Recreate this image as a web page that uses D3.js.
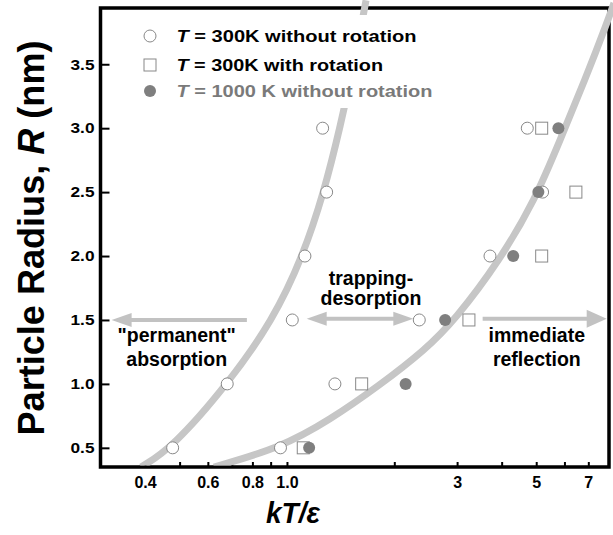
<!DOCTYPE html>
<html>
<head>
<meta charset="UTF-8">
<title>Particle radius vs kT/e</title>
<script src="https://cdn.jsdelivr.net/npm/d3@7"></script>
<style>
  body { margin: 0; background: #fff; }
  svg text { font-family: "Liberation Sans", Arial, Helvetica, sans-serif; font-weight: bold; }
  .curve { fill: none; stroke: #c6c6c6; stroke-width: 7px; }
  .arrow { stroke: #c2c2c2; stroke-width: 4px; fill: none; }
  .head { fill: #c2c2c2; stroke: none; }
  .tick line { stroke: #000; stroke-width: 2px; }
</style>
</head>
<body>
<svg width="613" height="535"></svg>
<script>
// particle radii simulated (nm)
var radii = [0.5, 1.0, 1.5, 2.0, 2.5, 3.0];
// kT/eps values for each radius
var open300Low  = [0.478, 0.680, 1.035, 1.123, 1.292, 1.259];   // T=300K no rotation, lower boundary
var open300High = [0.959, 1.363, 2.350, 3.71, 5.21, 4.72];      // T=300K no rotation, upper boundary
var square300   = [1.111, 1.620, 3.238, 5.18, 6.46, 5.18];      // T=300K with rotation
var filled1000  = [1.154, 2.152, 2.777, 4.31, 5.07, 5.77];      // T=1000K no rotation

// guide curves
var curveLowKT  = [0.390, 0.476, 0.683, 0.914, 1.109, 1.270, 1.408, 1.561, 1.666];
var curveLowR   = [0.35, 0.499, 1.0, 1.5, 2.0, 2.5, 3.0, 3.572, 4.0];
var curveHighKT = [0.624, 0.956, 1.320, 1.823, 2.438, 2.959, 3.957, 4.962, 5.831, 6.849, 7.95, 8.26];
var curveHighR  = [0.35, 0.499, 0.718, 0.991, 1.265, 1.50, 1.969, 2.438, 2.907, 3.377, 3.846, 3.979];

var xTickValues = [0.4, 0.5, 0.6, 0.7, 0.8, 0.9, 1.0, 2, 3, 4, 5, 6, 7];
var xTickLabels = ['0.4', '', '0.6', '', '0.8', '', '1.0', '', '3', '', '5', '', '7'];
var yTickValues = [0.5, 1.0, 1.5, 2.0, 2.5, 3.0, 3.5];

var legendLabels = ['300K without rotation', '300K with rotation', '1000 K without rotation'];

// region annotations (data coords)
var arrows = [
    { from: 0.772, to: 0.3223, r: 1.50, both: false, hw: 7 },
    { from: 1.136, to: 2.261,  r: 1.51, both: true,  hw: 7 },
    { from: 3.538, to: 7.88,   r: 1.51, both: false, hw: 9 }
];
var notes = [
    { lines: ['"permanent"', 'absorption'], kt: 0.4906, r: 1.327, gap: 24 },
    { lines: ['trapping-', 'desorption'],   kt: 1.720,  r: 1.771, gap: 20 },
    { lines: ['immediate', 'reflection'],   kt: 5.02,   r: 1.327, gap: 23.5 }
];

var svg = d3.select('svg');

var x = d3.scaleLog().domain([0.3, 8]).range([100.5, 609]),
    y = d3.scaleLinear().domain([0.35, 3.94]).range([467, 8]);

// axes
var xAxis = svg.append('g')
    .attr('transform', 'translate(0,' + y(0.35) + ')')
    .call(d3.axisBottom(x).tickValues(xTickValues).tickSize(-5).tickPadding(10)
        .tickFormat(function(d, i) { return xTickLabels[i]; }));
xAxis.select('.domain').remove();
xAxis.selectAll('text').attr('font-size', 16).attr('font-weight', 'bold')
    .style('font-family', '"Liberation Sans", Arial, sans-serif');

var yAxis = svg.append('g')
    .attr('transform', 'translate(' + x(0.3) + ',0)')
    .call(d3.axisLeft(y).tickValues(yTickValues).tickSize(-9).tickPadding(6)
        .tickFormat(d3.format('.1f')));
yAxis.select('.domain').remove();
yAxis.selectAll('text').attr('font-size', 15).attr('font-weight', 'bold')
    .attr('textLength', 24).attr('lengthAdjust', 'spacingAndGlyphs')
    .style('font-family', '"Liberation Sans", Arial, sans-serif');

svg.append('rect')
    .attr('x', x(0.3)).attr('y', y(3.94))
    .attr('width', x(8) - x(0.3)).attr('height', y(0.35) - y(3.94))
    .attr('fill', 'none').attr('stroke', '#000').attr('stroke-width', 3.5);

// guide curves
svg.append('clipPath').attr('id', 'clipBottom')
  .append('rect').attr('x', 0).attr('y', -50).attr('width', 613).attr('height', y(0.35) - 1.5 + 50);

var line = d3.line()
    .curve(d3.curveBasis)
    .x(function(d) { return x(d[0]); })
    .y(function(d) { return y(d[1]); });

[[curveLowKT, curveLowR], [curveHighKT, curveHighR]].forEach(function(c) {
    svg.append('path')
        .attr('class', 'curve')
        .attr('clip-path', 'url(#clipBottom)')
        .attr('d', line(d3.zip(c[0], c[1])));
});

// legend background hides the curve behind it
svg.append('rect').attr('x', 118).attr('y', 15).attr('width', 327).attr('height', 93).attr('fill', '#fff');

var legendY = [36, 65, 91], legendBase = [41.5, 70.5, 96.5], legendLen = [240, 206.6, 256];
var legendColor = ['#000', '#000', '#7a7a7a'];

svg.append('circle').attr('cx', 150).attr('cy', legendY[0]).attr('r', 6)
    .attr('fill', '#fff').attr('stroke', '#888');
svg.append('rect').attr('x', 144).attr('y', legendY[1] - 6).attr('width', 12).attr('height', 12)
    .attr('fill', '#fff').attr('stroke', '#888');
svg.append('circle').attr('cx', 150).attr('cy', legendY[2]).attr('r', 6)
    .attr('fill', '#7f7f7f');

legendLabels.forEach(function(l, i) {
    var t = svg.append('text')
        .attr('x', 176.5).attr('y', legendBase[i])
        .attr('font-size', 16)
        .attr('fill', legendColor[i])
        .attr('textLength', legendLen[i]).attr('lengthAdjust', 'spacingAndGlyphs');
    t.append('tspan').attr('font-style', 'italic').text('T');
    t.append('tspan').text(' = ' + l);
});

// data points
function pts(vals) { return vals.map(function(v, i) { return [v, radii[i]]; }); }

svg.append('g').selectAll('circle')
    .data(pts(open300Low).concat(pts(open300High)))
    .enter().append('circle')
    .attr('cx', function(d) { return x(d[0]); })
    .attr('cy', function(d) { return y(d[1]); })
    .attr('r', 6)
    .attr('fill', '#fff').attr('stroke', '#888');

svg.append('g').selectAll('rect')
    .data(pts(square300))
    .enter().append('rect')
    .attr('x', function(d) { return x(d[0]) - 6; })
    .attr('y', function(d) { return y(d[1]) - 6; })
    .attr('width', 12).attr('height', 12)
    .attr('fill', '#fff').attr('stroke', '#888');

svg.append('g').selectAll('circle')
    .data(pts(filled1000))
    .enter().append('circle')
    .attr('cx', function(d) { return x(d[0]); })
    .attr('cy', function(d) { return y(d[1]); })
    .attr('r', 6)
    .attr('fill', '#7f7f7f');

// arrows
function head(tipX, py, dir, hw) {
    var len = 20;
    return 'M' + tipX + ',' + py + 'L' + (tipX - dir * len) + ',' + (py - hw) +
           'L' + (tipX - dir * len) + ',' + (py + hw) + 'Z';
}
arrows.forEach(function(a) {
    var x1 = x(a.from), x2 = x(a.to), py = y(a.r);
    var dir = x2 > x1 ? 1 : -1;
    svg.append('line').attr('class', 'arrow')
        .attr('x1', a.both ? x1 + dir * 10 : x1).attr('x2', x2 - dir * 10)
        .attr('y1', py).attr('y2', py);
    svg.append('path').attr('class', 'head').attr('d', head(x2, py, dir, a.hw));
    if (a.both) svg.append('path').attr('class', 'head').attr('d', head(x1, py, -dir, a.hw));
});

notes.forEach(function(n) {
    n.lines.forEach(function(s, i) {
        svg.append('text')
            .attr('x', x(n.kt)).attr('y', y(n.r) + i * n.gap)
            .attr('text-anchor', 'middle')
            .attr('font-size', 19.5)
            .text(s);
    });
});

// axis titles
svg.append('text')
    .attr('x', 293).attr('y', 523)
    .attr('text-anchor', 'middle')
    .attr('font-size', 30).attr('font-style', 'italic')
    .attr('textLength', 54).attr('lengthAdjust', 'spacingAndGlyphs')
    .text('kT/\u03b5');

var yt = svg.append('text')
    .attr('transform', 'translate(44,238) rotate(-90)')
    .attr('text-anchor', 'middle')
    .attr('font-size', 36)
    .attr('textLength', 395).attr('lengthAdjust', 'spacingAndGlyphs');
yt.append('tspan').text('Particle Radius, ');
yt.append('tspan').attr('font-style', 'italic').text('R');
yt.append('tspan').text(' (nm)');
</script>
</body>
</html>
